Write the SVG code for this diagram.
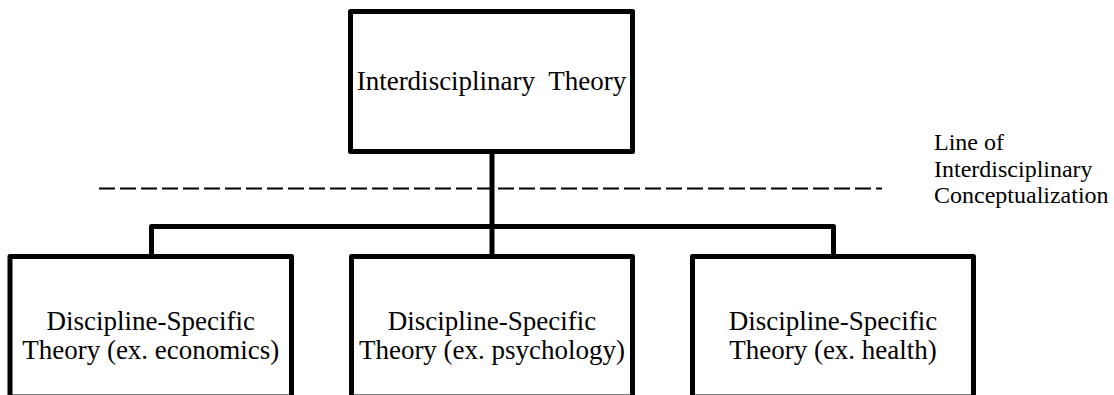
<svg xmlns="http://www.w3.org/2000/svg" width="1114" height="395" viewBox="0 0 1114 395">
  <style>
    .box { fill: #ffffff; stroke: #000000; stroke-width: 5; stroke-linejoin: round; }
    .wire { fill: none; stroke: #000000; stroke-width: 5; stroke-linejoin: round; }
    .divider { fill: none; stroke: #000000; stroke-width: 2; stroke-dasharray: 16 5; }
    text { font-family: 'Liberation Serif', 'Times New Roman', Times, serif; fill: #000000; }
    .label { font-size: 27px; text-anchor: middle; }
    .note { font-size: 24px; }
  </style>
  <rect width="1114" height="395" fill="#ffffff"/>

  <!-- tree connectors and the dashed conceptualization line -->
  <g id="connectors">
    <path class="wire" d="M492 151.5 V256.5"/>
    <path class="wire" d="M151.5 256.5 V226.5 H833.5 V256.5"/>
    <line class="divider" x1="99" y1="188.5" x2="882" y2="188.5"/>
  </g>

  <g id="interdisciplinary-theory">
    <rect class="box" x="350.5" y="11.5" width="282" height="140"/>
    <text class="label" x="491.5" y="90" word-spacing="7">Interdisciplinary Theory</text>
  </g>

  <!-- lower boxes run past the bottom edge of the canvas -->
  <g id="economics">
    <rect class="box" x="10" y="256.5" width="281.5" height="140.5"/>
    <text class="label" x="150.75" y="329.5">Discipline-Specific</text>
    <text class="label" x="150.75" y="358.5">Theory (ex. economics)</text>
  </g>

  <g id="psychology">
    <rect class="box" x="351.5" y="256.5" width="281" height="140.5"/>
    <text class="label" x="492" y="329.5">Discipline-Specific</text>
    <text class="label" x="492" y="358.5">Theory (ex. psychology)</text>
  </g>

  <g id="health">
    <rect class="box" x="692.5" y="256.5" width="281" height="140.5"/>
    <text class="label" x="833" y="329.5">Discipline-Specific</text>
    <text class="label" x="833" y="358.5">Theory (ex. health)</text>
  </g>

  <g id="conceptualization-label">
    <text class="note" x="934" y="150">Line of</text>
    <text class="note" x="934" y="176.5">Interdisciplinary</text>
    <text class="note" x="934" y="203">Conceptualization</text>
  </g>
</svg>
